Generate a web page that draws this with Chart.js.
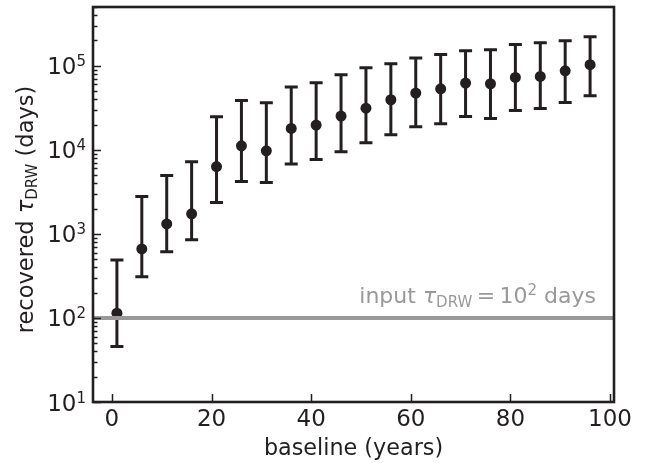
<!DOCTYPE html>
<html>
<head>
<meta charset="utf-8">
<style>
  html, body { margin: 0; padding: 0; background: #fff; }
</style>
</head>
<body>
<canvas id="chart" width="646" height="463"></canvas>
<script src="https://cdn.jsdelivr.net/npm/chart.js@4/dist/chart.umd.min.js"></script>
<script>
  /* recovered DRW timescale vs. light-curve baseline */

  const baselineYears = [1, 6, 11, 16, 21, 26, 31, 36, 41, 46, 51, 56, 61, 66, 71, 76, 81, 86, 91, 96];
  const tauDays = [114, 662, 1315, 1730, 6320, 11160, 9730, 17950, 19700, 25200,
                   31300, 39400, 47300, 53200, 62200, 61100, 72600, 74700, 87100, 103000];
  const tauUpper = [490, 2780, 4940, 7200, 24700, 38600, 36300, 55700, 62800, 78200,
                    94600, 106000, 124000, 136000, 151000, 155000, 179000, 188000, 199000, 221000];
  const tauLower = [45.6, 310, 615, 849, 2360, 4200, 4080, 6760, 7670, 9460,
                    12100, 15100, 18800, 20400, 24900, 23600, 29400, 31000, 36600, 44000];
  const inputTau = 100;

  const xTicks = [0, 20, 40, 60, 80, 100];
  const yTickExps = [1, 2, 3, 4, 5];
  const xMin = -3.8, xMax = 100.8;
  const yMin = 10, yMax = 5e5;

  const INK = '#231f20';
  const GREY = '#999999';
  const FONT = '"DejaVu Sans", sans-serif';

  // draw a run of text pieces (for sub/superscripts), left to right
  function drawRuns(ctx, runs, x, y, align) {
    let total = 0;
    runs.forEach(r => {
      ctx.font = (r.italic ? 'italic ' : '') + r.size + 'px ' + FONT;
      r.w = ctx.measureText(r.t).width;
      total += r.w;
    });
    let cx = align === 'right' ? x - total : (align === 'center' ? x - total / 2 : x);
    ctx.textAlign = 'left';
    runs.forEach(r => {
      ctx.font = (r.italic ? 'italic ' : '') + r.size + 'px ' + FONT;
      ctx.fillText(r.t, cx, y + (r.dy || 0));
      cx += r.w;
    });
  }

  const errorBars = {
    id: 'errorBars',
    beforeDatasetDraw(chart, args) {
      if (args.index !== 1) return;
      const ctx = chart.ctx, xs = chart.scales.x, ys = chart.scales.y;
      ctx.save();
      ctx.strokeStyle = INK;
      ctx.lineWidth = 3;
      baselineYears.forEach((b, i) => {
        const px = xs.getPixelForValue(b);
        const top = ys.getPixelForValue(tauUpper[i]);
        const bot = ys.getPixelForValue(tauLower[i]);
        ctx.beginPath();
        ctx.moveTo(px, top); ctx.lineTo(px, bot);
        ctx.moveTo(px - 6.5, top); ctx.lineTo(px + 6.5, top);
        ctx.moveTo(px - 6.5, bot); ctx.lineTo(px + 6.5, bot);
        ctx.stroke();
      });
      ctx.restore();
    }
  };

  const frame = {
    id: 'frame',
    afterDraw(chart) {
      const ctx = chart.ctx, a = chart.chartArea;
      const xs = chart.scales.x, ys = chart.scales.y;
      ctx.save();
      ctx.strokeStyle = INK;
      ctx.fillStyle = INK;

      // ticks (inward)
      ctx.lineWidth = 1.5;
      ctx.beginPath();
      xTicks.forEach(v => {
        const px = Math.round(xs.getPixelForValue(v)) + 0.5;
        ctx.moveTo(px, a.bottom); ctx.lineTo(px, a.bottom - 8);
      });
      yTickExps.forEach(e => {
        for (let m = 1; m <= 9; m++) {
          const v = m * Math.pow(10, e);
          if (v > yMax) break;
          const py = Math.round(ys.getPixelForValue(v)) + 0.5;
          ctx.moveTo(a.left, py); ctx.lineTo(a.left + (m === 1 ? 8 : 4.5), py);
        }
      });
      ctx.stroke();

      // axes box
      ctx.lineWidth = 2.6;
      ctx.strokeRect(a.left, a.top, a.right - a.left, a.bottom - a.top);

      // x tick labels
      ctx.textBaseline = 'alphabetic';
      ctx.font = '23px ' + FONT;
      ctx.textAlign = 'center';
      xTicks.forEach(v => ctx.fillText(String(v), xs.getPixelForValue(v), 426));

      // y tick labels 10^n
      yTickExps.forEach(e => {
        const py = ys.getPixelForValue(Math.pow(10, e));
        drawRuns(ctx, [
          { t: '10', size: 23, dy: 8.5 },
          { t: String(e), size: 15, dy: 0.5 }
        ], 86, py, 'right');
      });

      // axis titles
      drawRuns(ctx, [{ t: 'baseline (years)', size: 22.3 }], (a.left + a.right) / 2, 455, 'center');

      ctx.save();
      ctx.translate(33, (a.top + a.bottom) / 2 + 5);
      ctx.rotate(-Math.PI / 2);
      drawRuns(ctx, [
        { t: 'recovered ', size: 22.5 },
        { t: 'τ', size: 22.5, italic: true },
        { t: 'DRW', size: 15, dy: 4 },
        { t: ' (days)', size: 22.5 }
      ], 0, 0, 'center');
      ctx.restore();

      // annotation for the input timescale
      ctx.fillStyle = GREY;
      drawRuns(ctx, [
        { t: 'input ', size: 22 },
        { t: 'τ', size: 22, italic: true },
        { t: 'DRW', size: 15, dy: 4 },
        { t: '\u2009=\u2009', size: 22 },
        { t: '10', size: 22 },
        { t: '2', size: 15, dy: -8 },
        { t: ' days', size: 22 }
      ], 596, 303, 'right');

      ctx.restore();
    }
  };

  const points = baselineYears.map((b, i) => ({ x: b, y: tauDays[i] }));

  new Chart(document.getElementById('chart'), {
    type: 'scatter',
    data: {
      datasets: [
        {
          type: 'line',
          data: [{ x: xMin, y: inputTau }, { x: xMax, y: inputTau }],
          borderColor: GREY,
          borderWidth: 4,
          pointRadius: 0,
          fill: false
        },
        {
          data: points,
          backgroundColor: INK,
          borderWidth: 0,
          pointRadius: 5.5
        }
      ]
    },
    options: {
      responsive: false,
      animation: false,
      events: [],
      layout: { padding: { left: 93, right: 32, top: 7, bottom: 61 } },
      plugins: { legend: { display: false }, tooltip: { enabled: false } },
      scales: {
        x: { type: 'linear', min: xMin, max: xMax, display: false },
        y: { type: 'logarithmic', min: yMin, max: yMax, display: false }
      }
    },
    plugins: [errorBars, frame]
  });
</script>
</body>
</html>
